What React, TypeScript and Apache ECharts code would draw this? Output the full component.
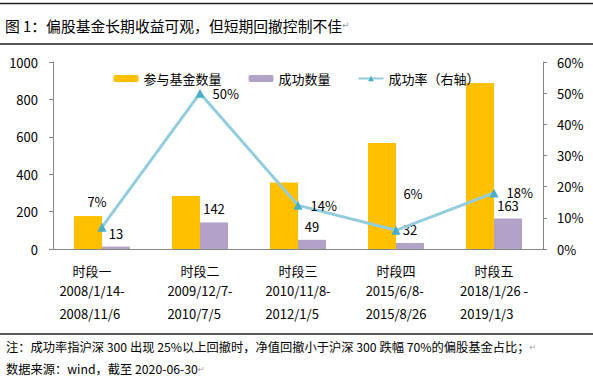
import React, { useEffect, useRef } from 'react';
import * as echarts from 'echarts';

const categories = ['时段一', '时段二', '时段三', '时段四', '时段五'];
const periodStarts = ['2008/1/14-', '2009/12/7-', '2010/11/8-', '2015/6/8-', '2018/1/26 -'];
const periodEnds = ['2008/11/6', '2010/7/5', '2012/1/5', '2015/8/26', '2019/1/3'];
const fundCounts = [176, 283, 355, 567, 888];
const successCounts = [13, 142, 49, 32, 163];
const successRates = [0.07, 0.5, 0.14, 0.06, 0.18];
const leftTicks = { min: 0, max: 1000, interval: 200 };
const rightTicks = { min: 0, max: 0.6, interval: 0.1 };

const titleText = '图 1：偏股基金长期收益可观，但短期回撤控制不佳';
const note1 = '注：成功率指沪深 300 出现 25%以上回撤时，净值回撤小于沪深 300 跌幅 70%的偏股基金占比；';
const note2 = '数据来源：wind，截至 2020-06-30';

const FONT = '"Noto Sans CJK SC", "Noto Sans", sans-serif';

export default function App() {
  const ref = useRef<HTMLDivElement>(null);
  useEffect(() => {
    document.body.style.margin = '0';
    const chart = echarts.init(ref.current!, null, { renderer: 'svg', width: 593, height: 381 });
    // per-point label placement for the rate line (as manually placed in the original)
    const rateLabelPlacement: any[] = [
      { position: 'top', offset: [-5, -10] },
      { position: 'right', distance: 8 },
      { position: 'right', distance: 8 },
      { position: 'top', offset: [17, -21] },
      { position: 'right', distance: 8 },
    ];
    const option: any = {
      animation: false,
      backgroundColor: '#fff',
      textStyle: { fontFamily: FONT },
      grid: { left: 53, right: 50, top: 62, bottom: 132 },
      legend: {
        top: 67,
        left: 'center',
        itemWidth: 25,
        itemHeight: 7,
        itemGap: 27,
        textStyle: { fontSize: 13, color: '#000', fontFamily: FONT },
        data: ['参与基金数量', '成功数量', '成功率（右轴）'],
      },
      xAxis: {
        type: 'category',
        data: categories.map((c, i) => (i === 0 ? { value: c, textStyle: { padding: [0, 20, 0, 0] } } : c)),
        axisLine: { lineStyle: { color: '#868686', width: 1 } },
        axisTick: { length: 6, lineStyle: { color: '#868686' } },
        axisLabel: {
          interval: 0,
          margin: 12,
          color: '#000',
          fontFamily: FONT,
          formatter: (v: string, i: number) => `{n|${v}}\n{d|${periodStarts[i]}}\n{d|${periodEnds[i]}}`,
          rich: {
            n: { fontSize: 13, lineHeight: 18, align: 'center', color: '#000', fontFamily: FONT },
            d: { fontSize: 13, lineHeight: 23, align: 'left', color: '#000', fontFamily: FONT },
          },
        },
      },
      yAxis: [
        {
          type: 'value',
          ...leftTicks,
          axisLine: { show: true, lineStyle: { color: '#868686' } },
          axisTick: { show: true, length: 4, lineStyle: { color: '#868686' } },
          splitLine: { show: false },
          axisLabel: {
            fontSize: 13,
            color: '#000',
            margin: 15,
            fontFamily: FONT,
            formatter: (v: number) => String(v),
          },
        },
        {
          type: 'value',
          ...rightTicks,
          axisLine: { show: true, lineStyle: { color: '#868686' } },
          axisTick: { show: true, length: 4, lineStyle: { color: '#868686' } },
          splitLine: { show: false },
          axisLabel: {
            fontSize: 13,
            color: '#000',
            margin: 14,
            fontFamily: FONT,
            formatter: (v: number) => Math.round(v * 100) + '%',
          },
        },
      ],
      series: [
        {
          name: '参与基金数量',
          type: 'bar',
          data: fundCounts,
          barWidth: 28,
          barGap: '0%',
          itemStyle: { color: '#FFC000' },
        },
        {
          name: '成功数量',
          type: 'bar',
          data: successCounts,
          barWidth: 28,
          itemStyle: { color: '#B3A2C7' },
          label: { show: true, position: 'top', distance: 7, fontSize: 13, color: '#000', fontFamily: FONT },
        },
        {
          name: '成功率（右轴）',
          type: 'line',
          yAxisIndex: 1,
          data: successRates.map((v, i) => ({ value: v, label: rateLabelPlacement[i] })),
          symbol: 'triangle',
          symbolSize: 9,
          itemStyle: { color: '#4BACC6' },
          lineStyle: { color: '#93CDDD', width: 3 },
          z: 5,
          label: {
            show: true,
            fontSize: 13,
            color: '#000',
            fontFamily: FONT,
            formatter: (p: any) => Math.round(p.value * 100) + '%',
          },
        },
      ],
      graphic: [
        { type: 'line', shape: { x1: 0, y1: 3.5, x2: 593, y2: 3.5 }, style: { stroke: '#222', lineWidth: 1.5 } },
        { type: 'line', shape: { x1: 0, y1: 44, x2: 593, y2: 44 }, style: { stroke: '#222', lineWidth: 1.5 } },
        { type: 'line', shape: { x1: 0, y1: 334, x2: 593, y2: 334 }, style: { stroke: '#222', lineWidth: 1.5 } },
        {
          type: 'text',
          x: 5,
          y: 25,
          style: {
            text: titleText + '{r|↵}',
            font: `14.8px ${FONT}`,
            fill: '#000',
            verticalAlign: 'middle',
            rich: { r: { fill: '#999', fontSize: 9, fontFamily: 'DejaVu Sans' } },
          },
        },
        {
          type: 'text',
          x: 6,
          y: 347,
          style: {
            text: note1 + '{r|↵}',
            font: `12.25px ${FONT}`,
            fill: '#000',
            verticalAlign: 'middle',
            rich: { r: { fill: '#999', fontSize: 8, fontFamily: 'DejaVu Sans' } },
          },
        },
        {
          type: 'text',
          x: 6,
          y: 369,
          style: {
            text: note2 + '{r|↵}',
            font: `12.25px ${FONT}`,
            fill: '#000',
            verticalAlign: 'middle',
            rich: { r: { fill: '#999', fontSize: 8, fontFamily: 'DejaVu Sans' } },
          },
        },
      ],
    };
    chart.setOption(option);
    return () => chart.dispose();
  }, []);
  return (
    <div
      ref={ref}
      style={{ width: 593, height: 381, position: 'absolute', left: 0, top: 0, background: '#fff' }}
    />
  );
}
